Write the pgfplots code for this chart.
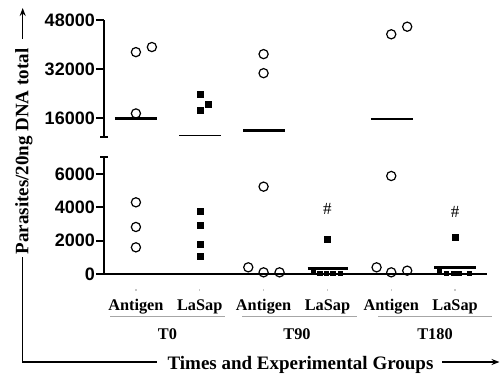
\documentclass[border=0pt]{standalone}
\usepackage{pgfplots}
\pgfplotsset{compat=1.18}
\usepackage{fontspec}
\setmainfont{Liberation Serif}
\setsansfont{Liberation Sans}
\usetikzlibrary{arrows.meta}

\pgfplotsset{
  brk/.style={
    scale only axis, width=383bp, xmin=-0.5, xmax=5.5, clip=false,
    axis y line*=left,
    axis line style={line width=2bp, black},
    tick align=outside, major tick length=8bp,
    ytick style={line width=2bp, black},
    yticklabel style={font=\sffamily\bfseries\fontsize{18bp}{20bp}\selectfont, inner sep=1bp},
    /pgf/number format/assume math mode=true,
    /pgf/number format/1000 sep={},
    scaled y ticks=false,
  },
  circ/.style={only marks, mark=o, mark size=4.6bp, mark options={line width=1.2bp, black}},
  sq/.style={only marks, mark=square*, mark size=3bp, black},
  sqs/.style={only marks, mark=square*, mark size=2.3bp, black},
  meanthick/.style={black, line width=2.6bp, no marks},
  meanthin/.style={black, line width=1.3bp, no marks},
}

\begin{document}
\begin{tikzpicture}[x=1bp, y=1bp]
\path[use as bounding box] (0,0) rectangle (500,378);

% ---------- upper panel ----------
\begin{axis}[brk, at={(104bp,241.2bp)}, anchor=south west, height=116.8bp,
  ymin=10000, ymax=48000, ytick={16000,32000,48000},
  axis x line=none,
  extra y ticks={10000}, extra y tick labels={},
  extra y tick style={tick align=center}]
\addplot[circ] coordinates {(0,37550) (0.25,39200) (0,17600)};
\addplot[sq] coordinates {(1,23840) (1.13,20570) (1,18600)};
\addplot[circ] coordinates {(2,36900) (2,30700)};
\addplot[circ] coordinates {(4,43350) (4.25,45820)};
\addplot[meanthick] coordinates {(-0.33,16000) (0.33,16000)};
\addplot[meanthin]  coordinates {(0.68,10370) (1.34,10370)};
\addplot[meanthick] coordinates {(1.68,12000) (2.34,12000)};
\addplot[meanthin]  coordinates {(3.68,15800) (4.34,15800)};
\end{axis}

% ---------- lower panel ----------
\begin{axis}[brk, at={(104bp,104bp)}, anchor=south west, height=116.7bp,
  ymin=0, ymax=7000, ytick={0,2000,4000,6000},
  axis x line*=bottom,
  xtick={0,1,2,3,4,5},
  xticklabels={Antigen,LaSap,Antigen,LaSap,Antigen,LaSap},
  xtick style={draw=gray!45, line width=1.2bp, yshift=-9bp, dash pattern=on 2bp off 20bp},
  xticklabel style={font=\bfseries\fontsize{16.3bp}{18bp}\selectfont, anchor=base, yshift=-28bp},
  extra y ticks={7000}, extra y tick labels={},
  extra y tick style={tick align=center}]
\addplot[circ] coordinates {(0,4300) (0,2820) (0,1600)};
\addplot[sq] coordinates {(1,3780) (1,2920) (1,1780) (1,1040)};
\addplot[circ] coordinates {(2,5240) (1.76,400) (2,100) (2.25,100)};
\addplot[sq] coordinates {(3,2100)};
\addplot[sqs] coordinates {(2.78,220) (2.88,60) (2.98,60) (3.08,60) (3.2,60)};
\addplot[meanthick] coordinates {(2.69,320) (3.33,320)};
\addplot[circ] coordinates {(4,5880) (3.77,400) (4,100) (4.25,200)};
\addplot[sq] coordinates {(5,2180)};
\addplot[sqs] coordinates {(4.75,220) (4.86,60) (4.97,60) (5.06,60) (5.22,60)};
\addplot[meanthick] coordinates {(4.67,380) (5.33,380)};
\node[font=\fontsize{17bp}{18bp}\selectfont] at (axis cs:3,3900) {\#};
\node[font=\fontsize{17bp}{18bp}\selectfont] at (axis cs:5,3740) {\#};
\end{axis}

% ---------- group labels ----------
\begin{scope}[gray!70, line width=0.9bp]
\draw (110,62) -- (225,62);
\draw (242,62) -- (357,62);
\draw (378,62) -- (492,62);
\end{scope}
\begin{scope}[font=\bfseries\fontsize{16.3bp}{18bp}\selectfont]
\node[anchor=base] at (167.5,39) {T0};
\node[anchor=base] at (297,39) {T90};
\node[anchor=base] at (435,39) {T180};
\end{scope}

% ---------- axis titles with arrows ----------
\node[rotate=90, font=\bfseries\fontsize{19bp}{22bp}\selectfont] at (24,226.5) {Parasites/20ng DNA total};
\draw[line width=1.5bp, -{Stealth[length=8bp,width=6bp]}] (22.7,339) -- (22.7,370);
\draw[line width=1.5bp] (22.7,121) -- (22.7,16) -- (157,16);
\node[anchor=base, font=\bfseries\fontsize{19bp}{22bp}\selectfont] at (300.5,8.5) {Times and Experimental Groups};
\draw[line width=1.5bp, -{Stealth[length=8bp,width=6bp]}] (442,16) -- (499.5,16);
\end{tikzpicture}
\end{document}
